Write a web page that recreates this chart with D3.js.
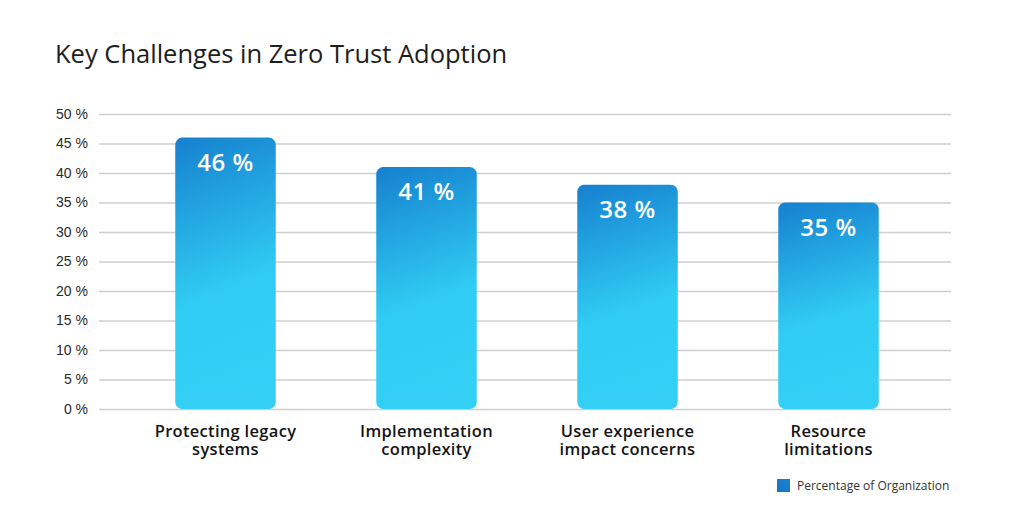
<!DOCTYPE html>
<html>
<head>
<meta charset="utf-8">
<script src="https://cdn.jsdelivr.net/npm/d3@7"></script>
<style>
  html, body { margin: 0; padding: 0; background: #fff; }
  svg { display: block; font-family: "Open Sans", Lato, sans-serif; }
</style>
</head>
<body>
<svg id="chart" width="1024" height="527"></svg>
<script>
/* ── Data ─────────────────────────────────────────────────────────── */
const categories = [
  ['Protecting legacy', 'systems'],
  ['Implementation', 'complexity'],
  ['User experience', 'impact concerns'],
  ['Resource', 'limitations'],
];
const values     = [46, 41, 38, 35];
const yTicks     = [0, 5, 10, 15, 20, 25, 30, 35, 40, 45, 50];
const seriesName = 'Percentage of Organization';

/* ── Setup ────────────────────────────────────────────────────────── */
const svg = d3.select('#chart');

const x = d3.scaleBand()
  .domain(d3.range(values.length))
  .range([125, 929])
  .paddingInner(0.5)
  .paddingOuter(0.25);

const y = d3.scaleLinear().domain([0, 50]).range([409, 114]);

// gradient per bar: dark blue on top, light cyan below
const defs = svg.append('defs');
const grad = defs.append('linearGradient')
  .attr('id', 'barGrad')
  .attr('x1', 0).attr('y1', 0).attr('x2', 0.15).attr('y2', 1);
grad.append('stop').attr('offset', '0%').attr('stop-color', '#1680cf');
grad.append('stop').attr('offset', '62%').attr('stop-color', '#30ccf3');
grad.append('stop').attr('offset', '100%').attr('stop-color', '#33cff5');

const legGrad = defs.append('linearGradient')
  .attr('id', 'legGrad')
  .attr('x1', 1).attr('y1', 0).attr('x2', 0).attr('y2', 1);
legGrad.append('stop').attr('offset', '0%').attr('stop-color', '#1a86d4');
legGrad.append('stop').attr('offset', '100%').attr('stop-color', '#1273c4');

/* ── Title ────────────────────────────────────────────────────────── */
svg.append('text')
  .attr('x', 55).attr('y', 63)
  .attr('font-size', 25.5)
  .attr('fill', '#1e1e1e')
  .text('Key Challenges in Zero Trust Adoption');

/* ── Grid + y axis ────────────────────────────────────────────────── */
const yAxis = d3.axisLeft(y)
  .tickValues(yTicks)
  .tickSize(-(951 - 99))
  .tickPadding(11)
  .tickFormat(d => `${d} %`);

const gy = svg.append('g')
  .attr('transform', 'translate(99,0)')
  .call(yAxis);
gy.select('.domain').remove();
gy.selectAll('.tick line')
  .attr('stroke', '#cfcfcf')
  .attr('stroke-width', 1.4);
gy.selectAll('.tick text')
  .attr('font-size', 14)
  .attr('fill', '#2a2a2a');

/* ── Bars ─────────────────────────────────────────────────────────── */
svg.append('g').selectAll('rect')
  .data(values)
  .join('rect')
  .attr('x', (d, i) => x(i))
  .attr('y', d => y(d))
  .attr('width', x.bandwidth())
  .attr('height', d => y(0) - y(d))
  .attr('rx', 7)
  .attr('fill', 'url(#barGrad)');

// value labels
svg.append('g').selectAll('text')
  .data(values)
  .join('text')
  .attr('x', (d, i) => x(i) + x.bandwidth() / 2)
  .attr('y', d => y(d) + 33)
  .attr('text-anchor', 'middle')
  .attr('font-size', 24)
  .attr('font-weight', 600)
  .attr('letter-spacing', 0.5)
  .attr('fill', '#fff')
  .text(d => `${d} %`);

/* ── Category labels ─────────────────────────────────────────────── */
const catG = svg.append('g').selectAll('g')
  .data(categories)
  .join('g');

catG.selectAll('text')
  .data((d, i) => d.map(line => ({ line, i })))
  .join('text')
  .attr('x', d => x(d.i) + x.bandwidth() / 2)
  .attr('y', (d, j) => 437 + j * 18)
  .attr('text-anchor', 'middle')
  .attr('font-size', 16.5)
  .attr('font-weight', 600)
  .attr('letter-spacing', 0.3)
  .attr('fill', '#151515')
  .text(d => d.line);

/* ── Legend ───────────────────────────────────────────────────────── */
const leg = svg.append('g').attr('transform', 'translate(777,479)');
leg.append('rect')
  .attr('width', 13).attr('height', 13)
  .attr('fill', 'url(#legGrad)');
leg.append('text')
  .attr('x', 20).attr('y', 10.5)
  .attr('font-size', 12)
  .attr('fill', '#333')
  .text(seriesName);
</script>
</body>
</html>
